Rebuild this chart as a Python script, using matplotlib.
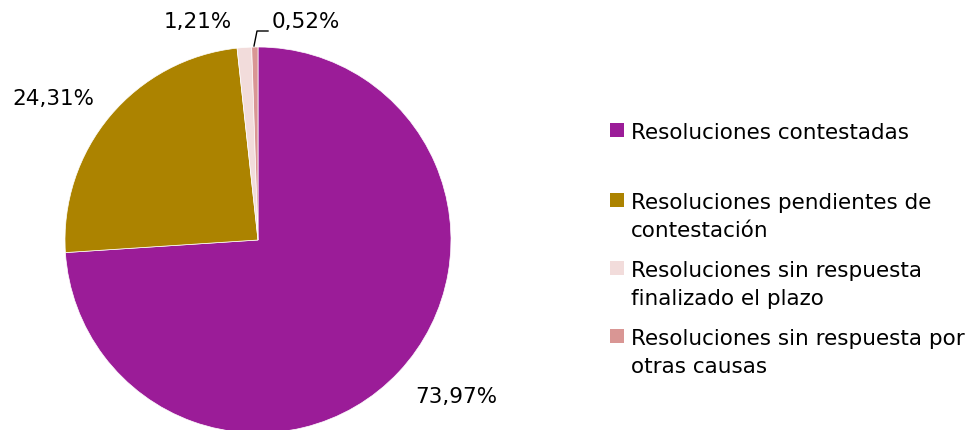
import matplotlib.pyplot as plt
from matplotlib.patches import Rectangle

# shares of resolutions (%)
labels = [
    "Resoluciones contestadas",
    "Resoluciones pendientes de\ncontestación",
    "Resoluciones sin respuesta\nfinalizado el plazo",
    "Resoluciones sin respuesta por\notras causas",
]
values = [73.97, 24.31, 1.21, 0.52]
colors = ["#9B1C98", "#AC8300", "#F2DCDB", "#D99694"]

plt.rcParams["font.family"] = "DejaVu Sans"
font = dict(fontsize=15.5, color="black")

W, H = 968, 431
fig = plt.figure(figsize=(W / 100, H / 100), dpi=100)
ax = fig.add_axes([0, 0, 1, 1])

# pixel-like coordinates, y measured from the bottom
ax.pie(values, colors=colors, startangle=90, counterclock=False,
       center=(258, H - 241), radius=193,
       wedgeprops=dict(edgecolor="white", linewidth=0.5))
ax.set_xlim(0, W)
ax.set_ylim(0, H)
ax.set_aspect("equal")
ax.axis("off")

fmt = [f"{v:.2f}".replace(".", ",") + "%" for v in values]
label_pos = [(456, 397), (53, 99), (198, 22), (306, 22)]
for txt, (x, y) in zip(fmt, label_pos):
    ax.text(x, H - y, txt, ha="center", va="center", **font)

# leader line for the smallest slice
ax.plot([254, 257, 268], [H - 47, H - 32, H - 32], color="black", lw=1)

# legend, drawn by hand so the box sits beside the first line
baselines = [139, 209, 277, 345]
for lab, col, b in zip(labels, colors, baselines):
    ax.add_patch(Rectangle((610, H - b + 1), 14, 14, facecolor=col,
                           edgecolor="none"))
    for i, line in enumerate(lab.split("\n")):
        ax.text(631, H - (b + 28 * i), line, ha="left", va="baseline", **font)

fig.savefig("out.png", dpi=100)
